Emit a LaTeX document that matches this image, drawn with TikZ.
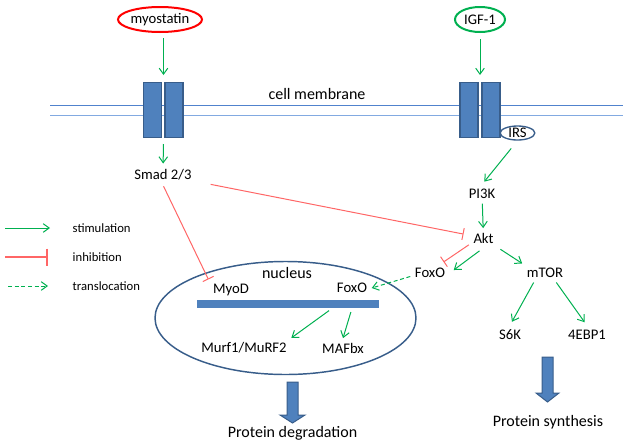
\documentclass[tikz,border=0pt]{standalone}
\usepackage{fontspec}
\setmainfont{Carlito}
\usetikzlibrary{arrows.meta,shapes.geometric}
\definecolor{stimgreen}{RGB}{0,176,80}
\definecolor{inhred}{RGB}{255,102,102}
\definecolor{recblue}{RGB}{79,129,189}
\definecolor{recedge}{RGB}{56,93,138}
\definecolor{membblue}{RGB}{80,130,205}
\definecolor{membpale}{RGB}{130,170,225}
\tikzset{ligand/.style = {shape=ellipse,draw,line width=1.5pt,inner sep=0,minimum width=63pt,minimum height=18.75pt}}
\tikzset{recep/.style = {draw=recedge,fill=recblue,line width=1pt,inner sep=0,minimum width=13.5pt,minimum height=41pt}}
\tikzset{stim/.style = {->,>={Straight Barb[length=4.5pt,width=6.5pt]},stimgreen,line width=0.75pt}}
\tikzset{inhib/.style = {arrows={-Bar[width=9pt]},inhred,line width=0.75pt}}
\tikzset{transl/.style = {stim,dash pattern=on 3pt off 2pt}}
\tikzset{memb/.style = {draw=membblue,line width=0.65pt}}
\tikzset{largetxt/.style = {font=\fontsize{12}{14}\selectfont}}
\tikzset{lgd/.style = {anchor=west,font=\fontsize{9.5}{11}\selectfont}}
\tikzset{bigarrow/.style = {draw=recedge,fill=recblue,line width=0.75pt,line join=miter}}

\begin{document}
\begin{tikzpicture}[x=0.75pt,y=-0.75pt,font=\fontsize{11}{13}\selectfont]
  \useasboundingbox (0,0) rectangle (629,447);
  % membrane
  \draw[memb] (50,105) -- (623,105);
  \draw[memb,draw=membpale] (50,115) -- (623,115);
  \node[largetxt] (cm) at (317,94) {cell membrane};

  \node[ligand,draw=red] (myo) at (160,19.5) {myostatin};
  \node[ligand,draw=stimgreen,minimum width=37.5pt] (igf) at (480,19.5) {IGF-1};

  \node[recep] (mrecA) at (152.5,110) {};
  \node[recep] (mrecB) at (174,110) {};
  \node[recep] (irecA) at (469,110) {};
  \node[recep] (irecB) at (491,110) {};
  \coordinate (mgap) at (163.5,82);
  \coordinate (igap) at (480,82);
  \node[shape=ellipse,draw=recedge,fill=white,line width=1pt,inner sep=0,minimum width=26pt,minimum height=10.5pt] (irs) at (517.5,133) {IRS};

  \node (smad) at (163,175) {Smad 2/3};
  \node (pi3k) at (482,194) {PI3K};
  \node (akt) at (483.5,238) {Akt};
  \node (foxo) at (430,273) {FoxO};
  \node (mtor) at (545,273) {mTOR};
  \node (s6k) at (510,335) {S6K};
  \node (ebp) at (587,335) {4EBP1};

  % nucleus
  \node[shape=ellipse,draw=recedge,line width=1.1pt,inner sep=0,minimum width=195.75pt,minimum height=84.75pt] (nuc) at (285.5,318) {};
  \node[largetxt] (nuclbl) at (287,273) {nucleus};
  \node[fill=recblue,inner sep=0,minimum width=136.5pt,minimum height=6pt] (dna) at (288,304) {};
  \node (myod) at (231,290) {MyoD};
  \node (foxon) at (352,288) {FoxO};
  \node (murf) at (244,348) {Murf1/MuRF2};
  \node (mafbx) at (343,348) {MAFbx};

  % big arrows
  \draw[bigarrow] (287,382) -- (298,382) -- (298,415) -- (305,415) -- (292.5,423)
    -- (280,415) -- (287,415) -- cycle;
  \node[largetxt] (deg) at (292.5,433) {Protein degradation};
  \draw[bigarrow] (542,357) -- (553,357) -- (553,393) -- (559,393) -- (547.5,402)
    -- (536,393) -- (542,393) -- cycle;
  \node[largetxt] (syn) at (548,422) {Protein synthesis};

  \draw[stim,shorten <=3.75pt,shorten >=5.25pt] (myo.south -| mgap) -- (mgap);
  \draw[stim,shorten <=4.5pt,shorten >=5.25pt] (igf.south -| igap) -- (igap);
  \draw[stim,shorten <=4.5pt,shorten >=1pt] (mrecA.south -| mgap) -- (smad);
  \draw[stim,shorten <=7.5pt,shorten >=2.7pt] (irs.south) -- (pi3k.north);
  \draw[stim] (pi3k) -- (akt);
  \draw[inhib,shorten <=11pt,shorten >=4pt] (smad) -- (akt);
  \draw[inhib,shorten <=1pt] (smad.south) -- (myod.north west);
  \draw[inhib,shorten >=2pt] (akt.205) -- (foxo.40);
  \draw[stim,shorten <=3.75pt,shorten >=3.75pt] (akt.south) -- (foxo.east);
  \draw[stim,shorten <=2pt] (akt.south east) -- (mtor.north west);
  \draw[stim,shorten >=3pt] (mtor.220) -- (s6k.north);
  \draw[stim,shorten >=3pt] (mtor.320) -- (ebp.north);
  \draw[transl] (foxo.190) -- (foxon.east);
  \draw[stim,shorten <=3pt] (dna.south -| foxon.west) -- (murf.north east);
  \draw[stim,shorten <=3pt] (dna.south -| foxon) -- (mafbx.north);

  % legend
  \coordinate (ls1) at (5,228);
  \coordinate (le1) at (50,228);
  \coordinate (ls2) at (5,257);
  \coordinate (le2) at (48,257);
  \coordinate (ls3) at (8,286);
  \coordinate (le3) at (48,286);
  \draw[stim] (ls1) -- (le1);
  \draw[inhib,arrows={-Bar[width=12.75pt]},line width=1.2pt] (ls2) -- (le2);
  \draw[transl] (ls3) -- (le3);
  \node[lgd] (lstim) at (68,228) {stimulation};
  \node[lgd] (linh) at (68,257) {inhibition};
  \node[lgd] (ltrans) at (68,286) {translocation};
\end{tikzpicture}
\end{document}
